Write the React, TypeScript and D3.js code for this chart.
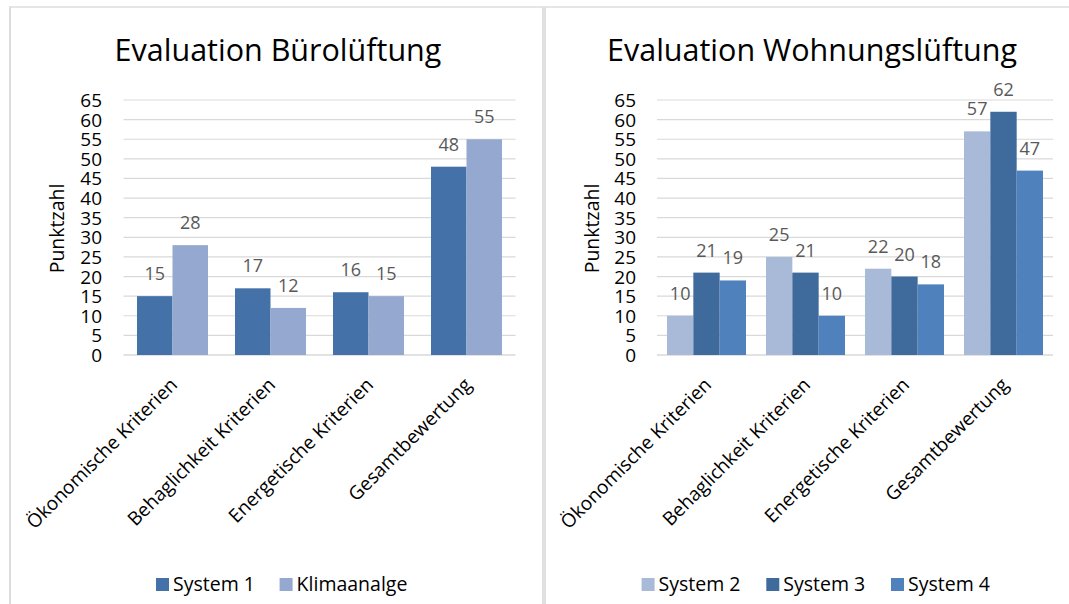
import React from "react";
import * as d3 from "d3";

const CATEGORIES = [
  "Ökonomische Kriterien",
  "Behaglichkeit Kriterien",
  "Energetische Kriterien",
  "Gesamtbewertung",
];
const Y_TICKS = [0, 5, 10, 15, 20, 25, 30, 35, 40, 45, 50, 55, 60, 65];

const SYSTEM_1 = [15, 17, 16, 48];
const KLIMAANALGE = [28, 12, 15, 55];

const SYSTEM_2 = [10, 25, 22, 57];
const SYSTEM_3 = [21, 21, 20, 62];
const SYSTEM_4 = [19, 10, 18, 47];

const FONT = "'Open Sans', 'Noto Sans', sans-serif";

type Series = { name: string; values: number[]; color: string };

type PanelProps = {
  title: string;
  titleX: number;
  series: Series[];
  x0: number;
  x1: number;
  pad: number;
  tickX: number;
  yLabelX: number;
  legendX0: number;
  legendStep: number;
};

const Y0 = 355;
const Y1 = 100;

function Panel(p: PanelProps) {
  const y = d3.scaleLinear().domain([0, 65]).range([Y0, Y1]);
  const xb = d3
    .scaleBand<string>()
    .domain(CATEGORIES)
    .range([p.x0, p.x1])
    .paddingInner(p.pad)
    .paddingOuter(p.pad / 2);
  const xs = d3
    .scaleBand<string>()
    .domain(p.series.map((s) => s.name))
    .range([0, xb.bandwidth()])
    .padding(0);

  return (
    <g>
      <text
        x={p.titleX}
        y={61}
        textAnchor="middle"
        fontFamily={FONT}
        fontSize={30.5}
        fill="#000"
      >
        {p.title}
      </text>
      {Y_TICKS.map((t) => (
        <g key={t}>
          <line
            x1={p.x0}
            x2={p.x1}
            y1={y(t)}
            y2={y(t)}
            stroke="#d9d9d9"
            strokeWidth={t === 0 ? 1.5 : 1.2}
          />
          <text
            x={p.tickX}
            y={y(t) + 7}
            textAnchor="end"
            fontFamily={FONT}
            fontSize={19}
            fill="#000"
          >
            {t}
          </text>
        </g>
      ))}
      <text
        transform={`translate(${p.yLabelX},${(Y0 + Y1) / 2 + 1}) rotate(-90)`}
        textAnchor="middle"
        fontFamily={FONT}
        fontSize={19.5}
        fill="#000"
        dy="0.35em"
      >
        Punktzahl
      </text>
      {CATEGORIES.map((c, i) => (
        <g key={c}>
          {p.series.map((s) => {
            const bx = (xb(c) as number) + (xs(s.name) as number);
            const v = s.values[i];
            return (
              <g key={s.name}>
                <rect
                  x={bx}
                  y={y(v)}
                  width={xs.bandwidth()}
                  height={Y0 - y(v)}
                  fill={s.color}
                />
                <text
                  x={bx + xs.bandwidth() / 2}
                  y={y(v) - 16}
                  textAnchor="middle"
                  fontFamily={FONT}
                  fontSize={18}
                  fill="#595959"
                >
                  {v}
                </text>
              </g>
            );
          })}
          <text
            transform={`translate(${(xb(c) as number) + xb.bandwidth() / 2 + 6},${Y0 + 31}) rotate(-45)`}
            textAnchor="end"
            fontFamily={FONT}
            fontSize={19}
            fill="#000"
          >
            {c}
          </text>
        </g>
      ))}
      {p.series.map((s, i) => (
        <g key={s.name}>
          <rect
            x={p.legendX0 + i * p.legendStep}
            y={578}
            width={13}
            height={13}
            fill={s.color}
          />
          <text
            x={p.legendX0 + i * p.legendStep + 17}
            y={591}
            fontFamily={FONT}
            fontSize={19.5}
            fill="#000"
          >
            {s.name}
          </text>
        </g>
      ))}
    </g>
  );
}

export default function App() {
  const left: Series[] = [
    { name: "System 1", values: SYSTEM_1, color: "#4472a8" },
    { name: "Klimaanalge", values: KLIMAANALGE, color: "#95a9d0" },
  ];
  const right: Series[] = [
    { name: "System 2", values: SYSTEM_2, color: "#a9b9d8" },
    { name: "System 3", values: SYSTEM_3, color: "#3f6a9c" },
    { name: "System 4", values: SYSTEM_4, color: "#4f81bd" },
  ];
  return (
    <svg
      width={1069}
      height={604}
      style={{ position: "absolute", left: 0, top: 0, background: "#fff" }}
    >
      <rect x={0} y={0} width={1069} height={604} fill="#fff" />
      <line x1={9} x2={1069} y1={7} y2={7} stroke="#dcdcdc" strokeWidth={1.5} />
      <rect x={9} y={7} width={2} height={597} fill="#dcdcdc" />
      <rect x={542} y={7} width={4} height={597} fill="#e0e0e0" />
      <Panel
        title="Evaluation Bürolüftung"
        titleX={278}
        series={left}
        x0={123.5}
        x1={515.5}
        pad={27 / 98}
        tickX={102}
        yLabelX={57.5}
        legendX0={156}
        legendStep={123.6}
      />
      <Panel
        title="Evaluation Wohnungslüftung"
        titleX={812}
        series={right}
        x0={657}
        x1={1053}
        pad={20 / 99}
        tickX={636}
        yLabelX={592.5}
        legendX0={641.6}
        legendStep={124.7}
      />
    </svg>
  );
}
